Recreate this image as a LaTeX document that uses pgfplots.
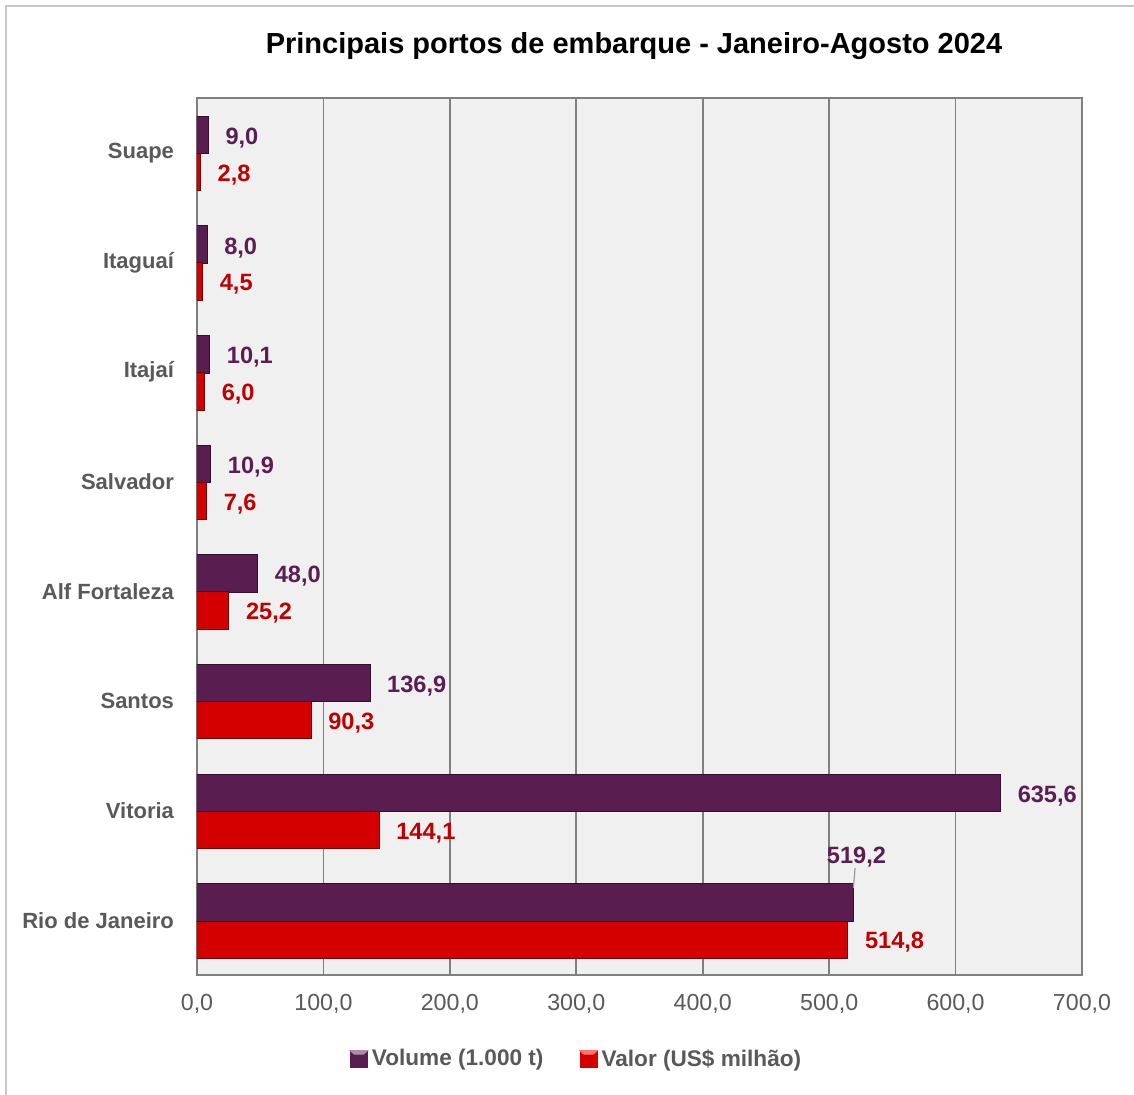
\documentclass[border=0pt]{standalone}
\usepackage{fontspec}
\setmainfont{Liberation Sans}
\usepackage{pgfplots}
\pgfplotsset{compat=1.18}
\definecolor{volpurple}{HTML}{5A1D50}
\definecolor{valred}{HTML}{D40000}
\definecolor{lblpurple}{HTML}{5A1E52}
\definecolor{lblred}{HTML}{C00000}
\definecolor{gridgray}{HTML}{7F7F7F}
\definecolor{ticktext}{HTML}{595959}
\definecolor{plotbg}{HTML}{F0F0F0}

\begin{document}
\begin{tikzpicture}
\begin{axis}[
  name=ax,
  scale only axis, width=442.5pt, height=438.5pt,
  xbar, bar width=18.75pt,
  xmin=0, xmax=700, ymin=-0.5, ymax=7.5,
  xtick={0,100,...,700}, ytick={0,...,7},
  yticklabels={Rio de Janeiro, Vitoria, Santos, Alf Fortaleza, Salvador, Itajaí, Itaguaí, Suape},
  axis background/.style={fill=plotbg},
  axis line style={gridgray, line width=1pt},
  xmajorgrids, major grid style={gridgray, line width=0.9pt},
  major tick length=0pt,
  /pgf/number format/.cd, assume math mode=true, use comma, fixed, fixed zerofill, precision=1, /pgfplots/.cd,
  xticklabel style={font=\fontsize{11.6}{13}\selectfont, text=ticktext, yshift=-6pt},
  yticklabel style={font=\bfseries\fontsize{11}{13}\selectfont, text=ticktext, xshift=-8pt},
  nodes near coords={\pgfmathprintnumber{\pgfplotspointmeta}},
  every node near coord/.append style={font=\bfseries\fontsize{11.8}{13}\selectfont, anchor=west, xshift=5pt, yshift=-1.5pt},
  legend style={at={(0.43,-0.096)}, anchor=center, draw=none, fill=none,
    legend columns=2, /tikz/every even column/.append style={column sep=16pt},
    font=\bfseries\fontsize{11.3}{13}\selectfont, text=ticktext},
]
\addplot[fill=volpurple, draw=volpurple!55!black, line width=0.5pt, bar shift=8.9pt,
  nodes near coords style={text=lblpurple},
  legend image code/.code={\fill[volpurple] (0pt,-4.25pt) rectangle (8.5pt,4.25pt);
    \fill[volpurple!50!white] (0pt,4.25pt) -- (8.5pt,4.25pt) -- (6.5pt,2.5pt) -- (2pt,2.5pt) -- cycle;}]
  coordinates {(9.0,7) (8.0,6) (10.1,5) (10.9,4) (48.0,3) (136.9,2) (635.6,1)};
\addlegendentry{Volume (1.000 t)}
\addplot[fill=valred, draw=valred!55!black, line width=0.5pt, bar shift=-9.6pt,
  nodes near coords style={text=lblred},
  legend image code/.code={\fill[valred] (0pt,-4.25pt) rectangle (8.5pt,4.25pt);
    \fill[red!55!white] (0pt,4.25pt) -- (8.5pt,4.25pt) -- (6.5pt,2.5pt) -- (2pt,2.5pt) -- cycle;}]
  coordinates {(2.8,7) (4.5,6) (6.0,5) (7.6,4) (25.2,3) (90.3,2) (144.1,1) (514.8,0)};
\addlegendentry{Valor (US\$ milhão)}
\addplot[fill=volpurple, draw=volpurple!55!black, line width=0.5pt, bar shift=8.9pt, forget plot,
  nodes near coords style={text=lblpurple, anchor=center, xshift=-3.5pt, yshift=24pt}]
  coordinates {(519.2,0)};
\draw[black!40, line width=0.6pt] ([yshift=16pt]axis cs:519.2,0) -- ([yshift=26pt]axis cs:520.5,0);
\coordinate (O) at (rel axis cs:0,0);
\end{axis}
\pgfresetboundingbox
\useasboundingbox ([shift={(-98.5pt,-60pt)}]O) rectangle ++(567pt,547.5pt);
\begin{scope}[shift={([shift={(-98.5pt,-60pt)}]O)}]
\draw[line width=1pt, black!22] (3pt,-5pt) -- (3pt,544.5pt) -- (570pt,544.5pt);
\node[font=\bfseries\fontsize{14.5}{17}\selectfont] at (317pt,524.5pt)
  {Principais portos de embarque - Janeiro-Agosto 2024};
\end{scope}
\end{tikzpicture}
\end{document}
